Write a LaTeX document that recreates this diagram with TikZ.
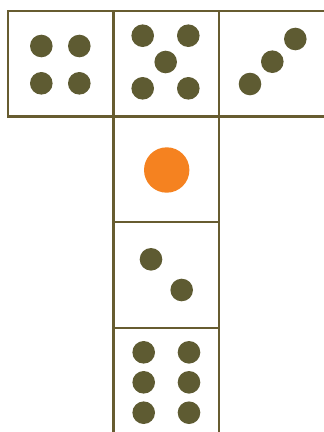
\documentclass[tikz,border=0pt]{standalone}
\definecolor{olive}{HTML}{5E5B32}
\definecolor{edge}{HTML}{675C30}
\definecolor{orng}{HTML}{F58220}
\begin{document}
\begin{tikzpicture}[x=1pt,y=-1pt,
  face/.style={draw=edge,line width=2.6pt},
  pip/.style={fill=olive},
  bigpip/.style={fill=orng}]
\useasboundingbox (0,0) rectangle (324,432);
\clip (0,0) rectangle (324,432);
% faces
\draw[face] (8,11) rectangle (113.5,116.5);
\draw[face] (113.5,11) rectangle (219,116.5);
\draw[face] (219,11) rectangle (330,116.5);
\draw[face] (113.5,116.5) rectangle (219,222);
\draw[face] (113.5,222) rectangle (219,328);
\draw[face] (113.5,328) rectangle (219,440);
% four
\foreach \p in {(41.3,46),(79.3,46),(41.3,83.3),(79.3,83.3)} \fill[pip] \p circle (11.3);
% five
\foreach \p in {(142.7,35.7),(188.3,35.7),(165.7,62),(142.7,88.3),(188.3,88.3)} \fill[pip] \p circle (11.3);
% three
\foreach \p in {(250,84),(272.3,61.7),(295.3,39)} \fill[pip] \p circle (11.3);
% one
\fill[bigpip] (166.7,170) circle (22.7);
% two
\foreach \p in {(151,259.3),(181.7,290)} \fill[pip] \p circle (11.3);
% six
\foreach \p in {(143.7,352.3),(189,352.3),(143.7,382.3),(189,382.3),(143.7,412.7),(189,412.7)} \fill[pip] \p circle (11.3);
\end{tikzpicture}
\end{document}
